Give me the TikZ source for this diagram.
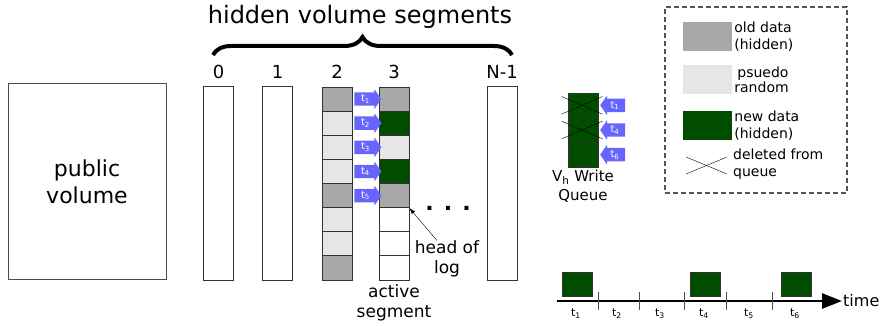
\documentclass[tikz,border=0pt]{standalone}
\usepackage{fontspec}
\setmainfont{DejaVu Sans}
\usetikzlibrary{positioning,shapes.arrows,decorations.pathreplacing,arrows.meta,calc}
\definecolor{olddata}{HTML}{A8A8A8}
\definecolor{pseudo}{HTML}{E6E6E6}
\definecolor{newdata}{HTML}{004D00}
\definecolor{writearr}{HTML}{6666FF}
\definecolor{legendline}{HTML}{555555}

\begin{document}
\begin{tikzpicture}[x=1pt,y=-1pt]
	\tikzset{
		seg/.style={draw=black!80, line width=1pt, minimum width=30pt, minimum height=193pt, inner sep=0pt},
		blk/.style={draw=black!80, line width=1pt, minimum width=30pt, minimum height=24.125pt, inner sep=0pt},
		tarr/.style={single arrow, fill=writearr, text=white, inner sep=1.5pt, minimum height=27pt, minimum width=20pt, single arrow head extend=3pt, single arrow tip angle=110, font=\fontsize{10}{10}\selectfont},
		seglabel/.style={font=\fontsize{18}{18}\selectfont, inner sep=0pt},
		txt/.style={align=center, font=\fontsize{17}{20}\selectfont, inner sep=0pt},
		lgbox/.style={minimum width=49pt, minimum height=29pt, inner sep=0pt},
		lgtext/.style={align=left, font=\fontsize{14}{17}\selectfont, inner sep=1pt, anchor=west}
	}
	\useasboundingbox (0,0) rectangle (880,326);
	
	% public volume
	\node[draw=black!70, line width=1pt, minimum width=158pt, minimum height=195pt, align=center, font=\fontsize{22}{27}\selectfont] (pub) at (87,181.5) {public\\volume};
	
	% hidden segments
	\node[font=\fontsize{24}{24}\selectfont] (title) at (360,17) {hidden volume segments};
	\draw[decorate, decoration={brace, amplitude=18pt}, line width=4pt] (213,55) -- (512,55);
	
	\node[seg] (s0) at (218.5,183.5) {};
	\node[seg] (s1) at (277.5,183.5) {};
	\node[seg] (sN) at (502,183.5) {};
	\foreach \fc [count=\i] in {olddata,pseudo,pseudo,pseudo,olddata,pseudo,pseudo,olddata}
		\node[blk, fill=\fc] (a\i) at (337, 74.94+\i*24.125) {};
	\foreach \fc [count=\i] in {olddata,newdata,pseudo,newdata,olddata,white,white,white}
		\node[blk, fill=\fc] (b\i) at (394, 74.94+\i*24.125) {};
	
	\node[seglabel, above=8pt of s0] (l0) {0};
	\node[seglabel, above=8pt of s1] (l1) {1};
	\node[seglabel, above=8pt of a1] (l2) {2};
	\node[seglabel, above=8pt of b1] (l3) {3};
	\node[seglabel, above=8pt of sN] (lN) {N-1};
	
	% writes into the active segment
	\foreach \i in {1,...,5}
		\node[tarr] (w\i) at ($(a\i.east)!0.5!(b\i.west)$) {t\textsubscript{\i}};
	
	\node[txt] (head) at (447,259) {head of\\log};
	\draw[-{Latex[length=6pt,width=4pt]}] ([xshift=-10pt]head.north) -- (b5.south east);
	\node[font=\fontsize{22}{22}\selectfont\bfseries, anchor=base] (dots) at (448,210) {. . .};
	\node[txt, below=4pt of b8] (act) {active\\segment};
	
	% write queue
	\foreach \i in {1,2,3}
		\node[blk, fill=newdata, minimum height=24.67pt] (q\i) at (583, 80.67+\i*24.67) {};
	\foreach \i in {1,2} {
		\draw ([xshift=-6pt,yshift=-4pt]q\i.north west) -- ([xshift=4pt,yshift=4pt]q\i.south east);
		\draw ([xshift=-6pt,yshift=4pt]q\i.south west) -- ([xshift=4pt,yshift=-4pt]q\i.north east);
	}
	\foreach \t/\i in {1/1,4/2,6/3}
		\node[tarr, minimum height=25pt, shape border rotate=180] (r\t) at ([xshift=16.5pt]q\i.east) {t\textsubscript{\t}};
	\node[font=\fontsize{15}{19}\selectfont, align=center, inner sep=0pt, below=2pt of q3] (qlab) {V\textsubscript{h} Write\\Queue};
	
	% legend
	\node[draw=legendline, line width=1.6pt, dash pattern=on 5pt off 3pt, minimum width=182pt, minimum height=186pt] (legend) at (756,100) {};
	\node[lgbox, fill=olddata] (kold) at (707.5,36.5) {};
	\node[lgtext, right=1pt of kold] (told) {old data\\(hidden)};
	\node[lgbox, fill=pseudo] (krnd) at (707.5,79.5) {};
	\node[lgtext, right=1pt of krnd, font=\fontsize{14}{15}\selectfont] (trnd) {\hspace{3pt}psuedo\\random};
	\node[lgbox, fill=newdata] (knew) at (707.5,125.5) {};
	\node[lgtext, right=1pt of knew] (tnew) {new data\\(hidden)};
	\draw (686,157) -- (727,174);
	\draw (686,174) -- (727,157);
	\node[lgtext] (tdel) at (732,164) {deleted from\\queue};
	
	% time line
	\coordinate (ts) at (557,301);
	\coordinate (te) at (842,301);
	\draw[line width=2.5pt, -{Triangle[length=20pt,width=15pt]}] (ts) -- (te);
	\node[right=0pt of te, inner sep=1pt, font=\fontsize{16}{16}\selectfont] (time) {time};
	\foreach \x in {598,639,684,726,772}
		\draw[black!70, line width=1pt] (\x,292) -- (\x,310);
	\foreach \x [count=\i] in {576,617,660,704,749,795}
		\node[font=\fontsize{11}{11}\selectfont] (tl\i) at (\x,314) {t\textsubscript{\i}};
	\foreach \x/\n in {577/1,705/4,796/6}
		\node[blk, fill=newdata, minimum height=24pt] (g\n) at (\x,284) {};
\end{tikzpicture}
\end{document}
